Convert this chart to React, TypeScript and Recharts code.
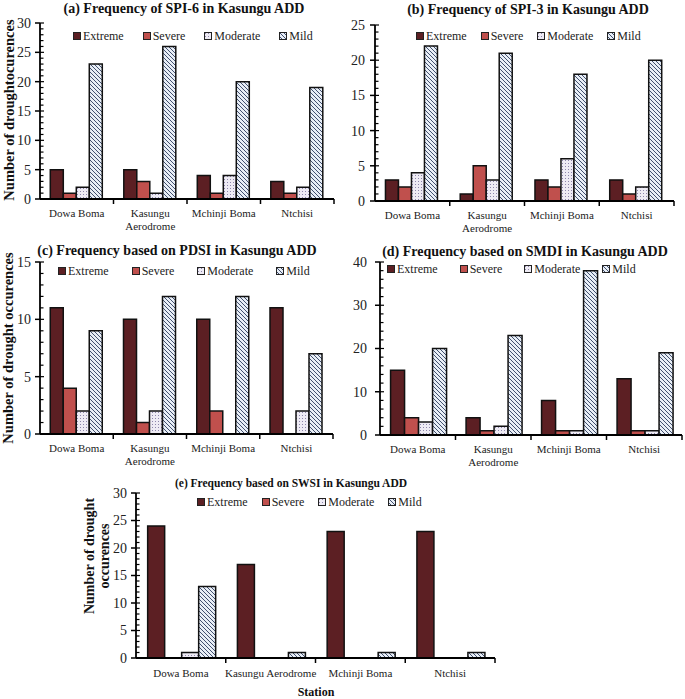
import React from 'react';
import { BarChart, Bar, XAxis, YAxis } from 'recharts';

const FONT = "'Liberation Serif', 'Times New Roman', serif";

// ---------- data ----------
const stations = ['Dowa Boma', 'Kasungu Aerodrome', 'Mchinji Boma', 'Ntchisi'];
const classes = ['Extreme', 'Severe', 'Moderate', 'Mild'];

// (a) SPI-6
const spi6Extreme = [5, 5, 4, 3];
const spi6Severe = [1, 3, 1, 1];
const spi6Moderate = [2, 1, 4, 2];
const spi6Mild = [23, 26, 20, 19];
const spi6Ticks = [0, 5, 10, 15, 20, 25, 30];

// (b) SPI-3
const spi3Extreme = [3, 1, 3, 3];
const spi3Severe = [2, 5, 2, 1];
const spi3Moderate = [4, 3, 6, 2];
const spi3Mild = [22, 21, 18, 20];
const spi3Ticks = [0, 5, 10, 15, 20, 25];

// (c) PDSI
const pdsiExtreme = [11, 10, 10, 11];
const pdsiSevere = [4, 1, 2, 0];
const pdsiModerate = [2, 2, 0, 2];
const pdsiMild = [9, 12, 12, 7];
const pdsiTicks = [0, 5, 10, 15];

// (d) SMDI
const smdiExtreme = [15, 4, 8, 13];
const smdiSevere = [4, 1, 1, 1];
const smdiModerate = [3, 2, 1, 1];
const smdiMild = [20, 23, 38, 19];
const smdiTicks = [0, 10, 20, 30, 40];

// (e) SWSI
const swsiExtreme = [24, 17, 23, 23];
const swsiSevere = [0, 0, 0, 0];
const swsiModerate = [1, 0, 0, 0];
const swsiMild = [13, 1, 1, 1];
const swsiTicks = [0, 5, 10, 15, 20, 25, 30];

// ---------- styles ----------
const classFill: Record<string, string> = {
  Extreme: '#5c1f23',
  Severe: '#c0504d',
  Moderate: 'url(#pat-dots)',
  Mild: 'url(#pat-hatch)',
};

const build = (ex: number[], sv: number[], md: number[], ml: number[]) =>
  stations.map((s, i) => ({ station: s, Extreme: ex[i], Severe: sv[i], Moderate: md[i], Mild: ml[i] }));

type PanelCfg = {
  data: any[];
  ticks: number[];
  plot: { x1: number; y1: number; x2: number; y2: number };
  gap: string;
  wrap: boolean;
  minorStep: number;
  labelDy: number;
  tickGap: number;
};

const panels: PanelCfg[] = [
  { data: build(spi6Extreme, spi6Severe, spi6Moderate, spi6Mild), ticks: spi6Ticks, plot: { x1: 40, y1: 23, x2: 334, y2: 199 }, gap: '14%', wrap: true, minorStep: 1, labelDy: 18, tickGap: 9 },
  { data: build(spi3Extreme, spi3Severe, spi3Moderate, spi3Mild), ticks: spi3Ticks, plot: { x1: 375, y1: 25, x2: 674, y2: 201 }, gap: '14%', wrap: true, minorStep: 1, labelDy: 18, tickGap: 10 },
  { data: build(pdsiExtreme, pdsiSevere, pdsiModerate, pdsiMild), ticks: pdsiTicks, plot: { x1: 40, y1: 262, x2: 333, y2: 434 }, gap: '14%', wrap: true, minorStep: 1, labelDy: 18, tickGap: 9 },
  { data: build(smdiExtreme, smdiSevere, smdiModerate, smdiMild), ticks: smdiTicks, plot: { x1: 380, y1: 262, x2: 682, y2: 435 }, gap: '14%', wrap: true, minorStep: 2, labelDy: 18, tickGap: 13 },
  { data: build(swsiExtreme, swsiSevere, swsiModerate, swsiMild), ticks: swsiTicks, plot: { x1: 136, y1: 493, x2: 495, y2: 658 }, gap: '13%', wrap: false, minorStep: 1, labelDy: 19, tickGap: 9 },
];

function CatTick(props: any) {
  const { x, y, payload, band, wrap, dy } = props;
  const label = String(payload.value);
  const lines = wrap && label.length > 13 ? label.split(' ') : [label];
  return (
    <g>
      <line x1={x + band / 2} x2={x + band / 2} y1={y} y2={y + 5} stroke="#000" strokeWidth={1.5} />
      {lines.map((ln, i) => (
        <text key={i} x={x} y={y + dy + i * 13} textAnchor="middle" fontSize={11} fontFamily={FONT} fill="#222">
          {ln}
        </text>
      ))}
    </g>
  );
}

function YTick(props: any) {
  const { x, y, payload, majors, gap } = props;
  const v = payload.value;
  const isMajor = majors.includes(v);
  return (
    <g>
      <line x1={x} x2={x + (isMajor ? 4 : 3.5)} y1={y} y2={y} stroke="#000" strokeWidth={1.2} />
      {isMajor && <line x1={x - 5} x2={x} y1={y} y2={y} stroke="#000" strokeWidth={1.5} />}
      {isMajor && (
        <text x={x - gap} y={y} dy="0.35em" textAnchor="end" fontSize={14} fontFamily={FONT} fill="#222">
          {v}
        </text>
      )}
    </g>
  );
}

function Panel({ cfg }: { cfg: PanelCfg }) {
  const { plot, ticks, data } = cfg;
  const yw = 45, mt = 10, xh = 45, mr = 6;
  const L = plot.x1 - yw;
  const T = plot.y1 - mt;
  const W = plot.x2 - L + mr;
  const H = plot.y2 - T + xh;
  const plotW = plot.x2 - plot.x1;
  const band = plotW / data.length;
  const max = ticks[ticks.length - 1];
  const allTicks: number[] = [];
  for (let v = 0; v <= max; v += cfg.minorStep) allTicks.push(v);
  return (
    <div style={{ position: 'absolute', left: L, top: T }}>
      <BarChart width={W} height={H} data={data} margin={{ top: mt, right: mr, left: 0, bottom: 0 }} barCategoryGap={cfg.gap} barGap={0}>
        <XAxis
          dataKey="station"
          height={xh}
          interval={0}
          tickLine={false}
          tickSize={0}
          tickMargin={0}
          axisLine={{ stroke: '#000', strokeWidth: 1.8 }}
          tick={(p: any) => <CatTick {...p} band={band} wrap={cfg.wrap} dy={cfg.labelDy} />}
        />
        <XAxis xAxisId="top" orientation="top" dataKey="station" height={0} tick={false} tickLine={false} axisLine={{ stroke: '#333', strokeWidth: 1.3 }} />
        <YAxis
          width={yw}
          type="number"
          domain={[0, max]}
          ticks={allTicks}
          interval={0}
          tickSize={0}
          tickMargin={0}
          tickLine={false}
          axisLine={{ stroke: '#000', strokeWidth: 1.8 }}
          tick={(p: any) => <YTick {...p} majors={ticks} gap={cfg.tickGap} />}
        />
        <YAxis yAxisId="right" orientation="right" width={0} type="number" domain={[0, max]} tick={false} tickLine={false} axisLine={{ stroke: '#333', strokeWidth: 1.3 }} />
        {classes.map((c) => (
          <Bar key={c} dataKey={c} name={c} fill={classFill[c]} stroke="#111" strokeWidth={1.5} isAnimationActive={false} />
        ))}
      </BarChart>
    </div>
  );
}

function Legend({ left, top, gap }: { left: number; top: number; gap: number }) {
  return (
    <div style={{ position: 'absolute', left, top, display: 'flex', alignItems: 'center', gap, fontFamily: FONT, fontSize: 12, color: '#222', lineHeight: '14px', whiteSpace: 'nowrap' }}>
      {classes.map((c) => (
        <div key={c} style={{ display: 'flex', alignItems: 'center' }}>
          <svg width={8} height={8} style={{ marginRight: 2 }}>
            <rect x={0.5} y={0.5} width={7} height={7} fill={classFill[c]} stroke="#222" strokeWidth={1} />
          </svg>
          <span>{c}</span>
        </div>
      ))}
    </div>
  );
}

const titles = [
  { text: '(a) Frequency of SPI-6 in Kasungu ADD', x: 184, y: 13, size: 14 },
  { text: '(b) Frequency of SPI-3 in Kasungu ADD', x: 528, y: 14, size: 14 },
  { text: '(c) Frequency based on PDSI in Kasungu ADD', x: 177, y: 255, size: 14 },
  { text: '(d) Frequency based on SMDI in Kasungu ADD', x: 525, y: 256, size: 14 },
  { text: '(e) Frequency based on SWSI in Kasungu ADD', x: 291, y: 487, size: 11.5 },
];

export default function App() {
  return (
    <div style={{ position: 'absolute', left: 0, top: 0, width: 685, height: 699, background: '#fff', overflow: 'hidden' }}>
      <svg width={0} height={0} style={{ position: 'absolute' }}>
        <defs>
          <pattern id="pat-dots" width={3} height={3} patternUnits="userSpaceOnUse">
            <rect width={3} height={3} fill="#eeebf4" />
            <rect x={1} y={1} width={1} height={1} fill="#8d86ab" />
          </pattern>
          <pattern id="pat-hatch" width={4} height={4} patternUnits="userSpaceOnUse">
            <rect width={4} height={4} fill="#e8eef6" />
            <path d="M-1,-1 L5,5 M-1,3 L1,5 M3,-1 L5,1" stroke="#42506f" strokeWidth={1} />
          </pattern>
        </defs>
      </svg>
      {panels.map((p, i) => (
        <Panel key={i} cfg={p} />
      ))}
      <Legend left={73} top={29} gap={19} />
      <Legend left={416} top={29} gap={14} />
      <Legend left={58} top={264} gap={23} />
      <Legend left={387} top={262} gap={22} />
      <Legend left={197} top={495} gap={14} />
      <svg width={685} height={699} style={{ position: 'absolute', left: 0, top: 0, pointerEvents: 'none' }}>
        {titles.map((t, i) => (
          <text key={i} x={t.x} y={t.y} textAnchor="middle" fontFamily={FONT} fontWeight="bold" fontSize={t.size} fill="#111">
            {t.text}
          </text>
        ))}
        <text x={13.5} y={110} transform="rotate(-90 13.5 110)" textAnchor="middle" fontFamily={FONT} fontWeight="bold" fontSize={14.5} fill="#111">
          Number of droughtocurences
        </text>
        <text x={13} y={348} transform="rotate(-90 13 348)" textAnchor="middle" fontFamily={FONT} fontWeight="bold" fontSize={14.5} fill="#111">
          Number of drought occurences
        </text>
        <text x={94} y={556} transform="rotate(-90 94 556)" textAnchor="middle" fontFamily={FONT} fontWeight="bold" fontSize={14} fill="#111">
          Number of drought
        </text>
        <text x={108.5} y={556} transform="rotate(-90 108.5 556)" textAnchor="middle" fontFamily={FONT} fontWeight="bold" fontSize={14} fill="#111">
          occurences
        </text>
        <text x={316} y={696} textAnchor="middle" fontFamily={FONT} fontWeight="bold" fontSize={12} fill="#111">
          Station
        </text>
      </svg>
    </div>
  );
}
